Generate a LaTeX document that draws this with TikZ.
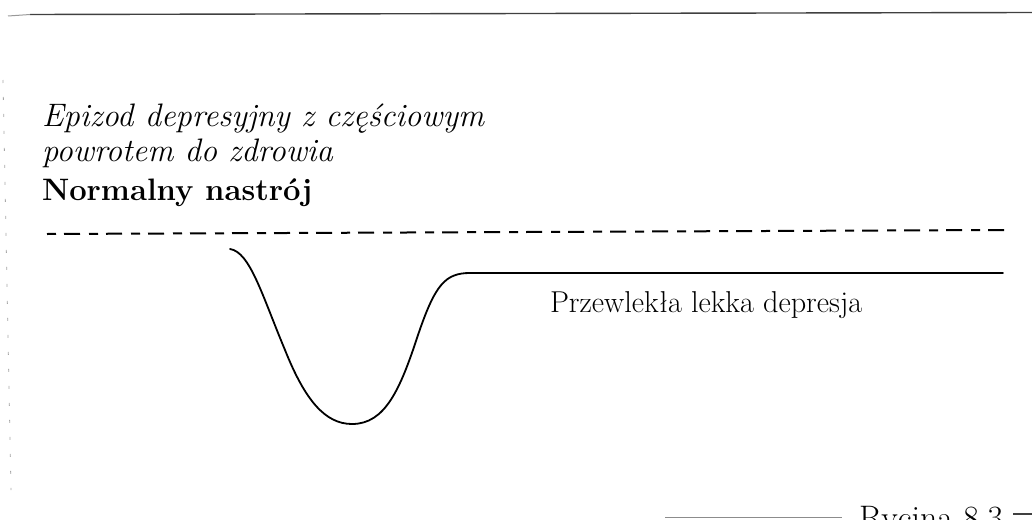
\documentclass[tikz,border=0pt]{standalone}
\usepackage{fontspec}
\begin{document}
\begin{tikzpicture}[x=1pt,y=-1pt,
  lbl/.style={anchor=base west,inner sep=0pt,outer sep=0pt,text=black},
  itl/.style={lbl,font=\fontsize{32.5}{38}\selectfont\itshape},
  bld/.style={lbl,font=\fontsize{31}{36}\selectfont\bfseries},
  rom/.style={lbl,font=\fontsize{30.2}{36}\selectfont},
  fig/.style={lbl,font=\fontsize{34}{40}\selectfont},
  curve/.style={line width=1.8pt,black,line cap=round},
  normline/.style={line width=2pt,black,dash pattern=on 9pt off 8pt on 16pt off 9pt},
  scanline/.style={line width=1.4pt,black!75},
]
\useasboundingbox (0,0) rectangle (1032,519);
\clip (0,0) rectangle (1032,519);
% scan borders
\draw[scanline] (30,14.5) -- (1032,12.5);
\draw[line width=1pt,black!40] (8,16) -- (30,14.5);
\draw[line width=0.8pt,black!35,dash pattern=on 3pt off 14pt] (3,80) -- (11,490);
\draw[line width=1pt,black!45] (665,517) -- (842,517);
\draw[scanline] (1013,514) -- (1032,514);
% labels
\node[itl] (t1) at (42,126) {Epizod depresyjny z częściowym};
\node[itl] (t2) at (42,161) {powrotem do zdrowia};
\node[bld] (t3) at (42,200) {Normalny nastrój};
\node[rom] (t4) at (550,312) {Przewlekła lekka depresja};
\node[fig] (t5) at (859,529) {Rycina 8.3};
% normal mood line
\coordinate (n0) at (47,234);
\coordinate (n1) at (1005,230);
\draw[normline] (n0) -- (n1);
% mood curve
\coordinate (c0) at (230,249);
\coordinate (c1) at (285,350);
\coordinate (c2) at (352,424);
\coordinate (c3) at (418,335);
\coordinate (c4) at (470,273);
\coordinate (c5) at (1003,273);
\draw[curve] (c0) .. controls (250,252) and (262,295) .. (c1)
  .. controls (305,400) and (325,424) .. (c2)
  .. controls (385,424) and (400,390) .. (c3)
  .. controls (435,285) and (445,273) .. (c4) -- (c5);
\end{tikzpicture}
\end{document}
